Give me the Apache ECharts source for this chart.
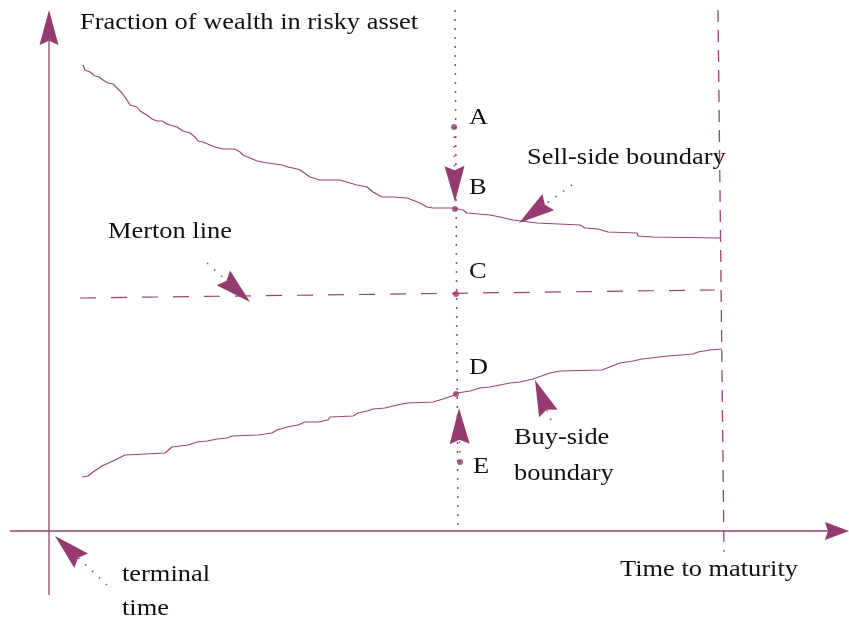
<!DOCTYPE html>
<html>
<head>
<meta charset="utf-8">
<script src="https://cdn.jsdelivr.net/npm/echarts@6/dist/echarts.min.js"></script>
<style>
html, body { margin: 0; padding: 0; background: #fff; }
#main { width: 849px; height: 622px; }
</style>
</head>
<body>
<div id="main"></div>
<script>
// x: time steps from terminal time (0) to maturity (671), y: fraction of wealth in risky asset
var sellSide = [
    [34,0.932],[36,0.922],[41,0.918],[43,0.914],[46,0.910],[50,0.908],[54,0.902],[59,0.896],
    [64,0.894],[68,0.886],[73,0.876],[78,0.862],[81,0.852],[88,0.848],[91,0.840],[98,0.832],
    [103,0.824],[108,0.820],[113,0.820],[114,0.816],[118,0.814],[121,0.812],[128,0.808],[134,0.800],
    [141,0.796],[146,0.788],[149,0.780],[154,0.778],[161,0.772],[166,0.768],[174,0.764],[186,0.764],
    [191,0.758],[194,0.752],[201,0.746],[208,0.740],[219,0.736],[233,0.732],[239,0.728],[248,0.724],
    [251,0.722],[261,0.708],[271,0.702],[291,0.702],[301,0.696],[308,0.692],[318,0.688],[324,0.678],
    [333,0.668],[344,0.668],[358,0.666],[371,0.656],[378,0.648],[384,0.646],[404,0.646],[414,0.642],
    [418,0.636],[441,0.632],[451,0.628],[464,0.622],[488,0.616],[531,0.612],[536,0.606],[549,0.604],
    [559,0.598],[588,0.596],[589,0.590],[604,0.588],[606,0.586],[671,0.586]
];
var buySide = [
    [33,0.108],[39,0.110],[44,0.118],[53,0.130],[64,0.140],[76,0.152],[78,0.156],[116,0.156],
    [123,0.168],[131,0.170],[139,0.172],[148,0.178],[158,0.180],[168,0.184],[178,0.186],[183,0.190],
    [209,0.192],[223,0.196],[228,0.202],[238,0.208],[249,0.212],[256,0.218],[269,0.218],[279,0.222],
    [281,0.228],[304,0.230],[309,0.236],[318,0.240],[324,0.244],[336,0.246],[348,0.252],[359,0.256],
    [384,0.258],[394,0.264],[403,0.270],[408,0.276],[421,0.280],[431,0.286],[441,0.288],[461,0.296],
    [471,0.298],[484,0.304],[501,0.316],[511,0.320],[553,0.322],[571,0.336],[584,0.340],[593,0.344],
    [619,0.350],[644,0.354],[649,0.358],[661,0.362],[673,0.364]
];
var statePoints = [[405,0.808],[406,0.644],[407,0.474],[407,0.274],[411,0.138]];
// straight lines: [x1, y1, x2, y2]
var mertonLine = [[31,0.466,666,0.482]];
var currentTime = [[406,1.042,409,0.006]];
var maturityLine = [[669,1.042,675,-0.042]];
// arrows: [tailX, tailY, tipX, tipY]
var yAxisArrow = [[0,-0.128,0,1.042]];
var xAxisArrow = [[-39,0,800,0]];
var pointerArrows = [
    [405,0.808,406,0.658],
    [523,0.692,470,0.616],
    [158,0.536,201,0.458],
    [502,0.222,486,0.302],
    [411,0.138,410,0.246],
    [58,-0.108,6,-0.010]
];
// text labels (pixel layout)
var labels = [
    ['Fraction of wealth in risky asset', 80, 23],
    ['A', 469, 118], ['B', 469, 188], ['C', 469, 272], ['D', 469, 368], ['E', 473, 467],
    ['Sell-side boundary', 527, 158],
    ['Merton line', 108, 232],
    ['Buy-side', 514, 438], ['boundary', 514, 474],
    ['terminal', 122, 575], ['time', 122, 609],
    ['Time to maturity', 620, 570]
];

var lineColor = '#9b4276';
var arrowColor = '#953b6f';

function segmentSeries(data, dash, width) {
    return {
        type: 'custom',
        coordinateSystem: 'cartesian2d',
        data: data,
        silent: true,
        encode: { x: [0, 2], y: [1, 3] },
        renderItem: function (params, api) {
            var a = api.coord([api.value(0), api.value(1)]);
            var b = api.coord([api.value(2), api.value(3)]);
            return {
                type: 'line',
                shape: { x1: a[0], y1: a[1], x2: b[0], y2: b[1] },
                style: { stroke: lineColor, lineWidth: width, lineDash: dash, fill: null }
            };
        }
    };
}

function arrowSeries(data, headLen, headHalf, dash) {
    return {
        type: 'custom',
        coordinateSystem: 'cartesian2d',
        data: data,
        silent: true,
        z: 3,
        encode: { x: [0, 2], y: [1, 3] },
        renderItem: function (params, api) {
            var a = api.coord([api.value(0), api.value(1)]);
            var b = api.coord([api.value(2), api.value(3)]);
            var dx = b[0] - a[0], dy = b[1] - a[1];
            var d = Math.sqrt(dx * dx + dy * dy);
            var ux = dx / d, uy = dy / d, nx = -uy, ny = ux;
            var bx = b[0] - ux * headLen, by = b[1] - uy * headLen;
            var notch = headLen * 0.12;
            var mx = b[0] - ux * (headLen - notch), my = b[1] - uy * (headLen - notch);
            return {
                type: 'group',
                children: [
                    {
                        type: 'line',
                        shape: { x1: a[0], y1: a[1], x2: mx, y2: my },
                        style: { stroke: lineColor, lineWidth: dash ? 1.6 : 1.3, lineDash: dash, fill: null }
                    },
                    {
                        type: 'polygon',
                        shape: { points: [b, [bx + nx * headHalf, by + ny * headHalf], [mx, my], [bx - nx * headHalf, by - ny * headHalf]] },
                        style: { fill: arrowColor }
                    }
                ]
            };
        }
    };
}

var myChart = echarts.init(document.getElementById('main'));
var option = {
    backgroundColor: '#ffffff',
    animation: false,
    grid: { left: 49, top: 31, width: 671, height: 500 },
    xAxis: { type: 'value', min: 0, max: 671, show: false },
    yAxis: { type: 'value', min: 0, max: 1, show: false },
    graphic: labels.map(function (l) {
        return {
            type: 'text',
            x: l[1],
            y: l[2],
            scaleX: 1.1,
            silent: true,
            style: {
                text: l[0],
                font: '24px "Liberation Serif", "DejaVu Serif", serif',
                fill: '#111111',
                verticalAlign: 'middle'
            }
        };
    }),
    series: [
        {
            type: 'line', data: sellSide, symbol: 'none', clip: false, silent: true,
            lineStyle: { color: lineColor, width: 1.2 }
        },
        {
            type: 'line', data: buySide, symbol: 'none', clip: false, silent: true,
            lineStyle: { color: lineColor, width: 1.2 }
        },
        segmentSeries(mertonLine, [16, 15], 1.2),
        segmentSeries(currentTime, [2, 7], 1.5),
        segmentSeries(maturityLine, [12, 8], 1.3),
        arrowSeries(yAxisArrow, 35, 9.5, null),
        arrowSeries(xAxisArrow, 24, 9, null),
        arrowSeries(pointerArrows, 36, 10, [1.5, 8]),
        {
            type: 'scatter', data: statePoints, symbol: 'circle', symbolSize: 6, clip: false, silent: true,
            itemStyle: { color: arrowColor }
        }
    ]
};
myChart.setOption(option);
</script>
</body>
</html>
